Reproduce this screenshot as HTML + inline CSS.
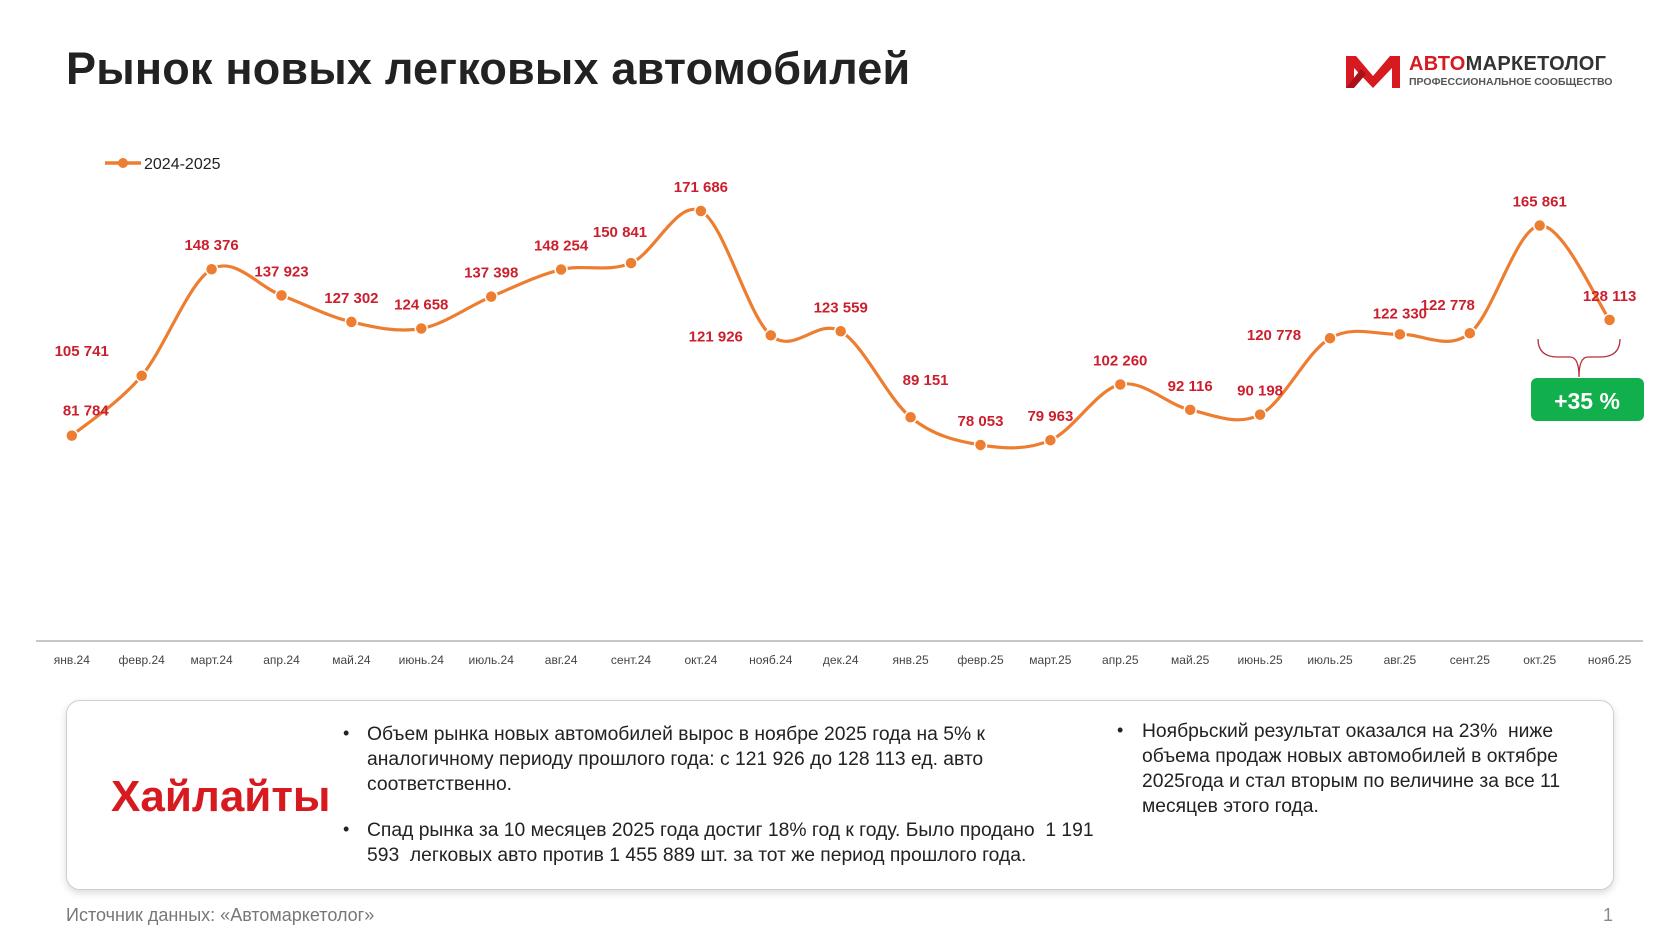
<!DOCTYPE html>
<html><head><meta charset="utf-8">
<style>
body{margin:0;background:#fff;}
#root{position:relative;width:1680px;height:945px;overflow:hidden;background:#fff;font-family:"Liberation Sans",sans-serif;}
.abs{position:absolute;}
.title{left:66px;top:43px;font-size:45px;font-weight:bold;color:#222;letter-spacing:0.2px;}
.box{left:66px;top:700px;width:1546px;height:188px;border:1.5px solid #cfcfcf;border-radius:14px;box-shadow:0 3px 8px rgba(0,0,0,0.15);background:#fff;}
.hl{left:111px;top:772px;font-size:44px;font-weight:bold;color:#d71920;}
.txt{font-size:19.3px;color:#222;line-height:25px;}
.bul{font-size:18px;color:#222;}
.src{left:66px;top:905px;font-size:18px;color:#777;}
.pg{left:1603px;top:905px;font-size:18px;color:#888;}
</style></head>
<body>
<div id="root">
<div class="abs title">Рынок новых легковых автомобилей</div>

<div class="abs" style="left:1346px;top:54px;">
<svg width="54" height="36" viewBox="0 0 54 36">
<polygon points="0,2 10,2 27,22 44,2 54,2 54,34 46,34 46,14 27,34 8,14 8,34 0,34" fill="#d71920"/>
<polygon points="0,34 8,34 20,20 15,15" fill="#a8121a"/>
</svg>
</div>
<div class="abs" style="left:1409px;top:53px;font-size:20px;font-weight:bold;letter-spacing:0.3px;"><span style="color:#d71920">АВТО</span><span style="color:#333">МАРКЕТОЛОГ</span></div>
<div class="abs" style="left:1409px;top:76px;font-size:10.5px;font-weight:bold;color:#555;">ПРОФЕССИОНАЛЬНОЕ СООБЩЕСТВО</div>

<svg id="chart" class="abs" style="left:0;top:0" width="1680" height="700"></svg>

<div class="abs box"></div>
<div class="abs hl">Хайлайты</div>
<div class="abs bul" style="left:343px;top:723px;">•</div>
<div class="abs txt" style="left:367px;top:722px;">Объем рынка новых автомобилей вырос в ноябре 2025 года на 5% к<br>аналогичному периоду прошлого года: с 121 926 до 128 113 ед. авто<br>соответственно.</div>
<div class="abs bul" style="left:343px;top:819px;">•</div>
<div class="abs txt" style="left:367px;top:818px;">Спад рынка за 10 месяцев 2025 года достиг 18% год к году. Было продано&nbsp; 1 191<br>593&nbsp; легковых авто против 1 455 889 шт. за тот же период прошлого года.</div>
<div class="abs bul" style="left:1117px;top:720px;">•</div>
<div class="abs txt" style="left:1142px;top:719px;">Ноябрьский результат оказался на 23%&nbsp; ниже<br>объема продаж новых автомобилей в октябре<br>2025года и стал вторым по величине за все 11<br>месяцев этого года.</div>

<div class="abs src">Источник данных: «Автомаркетолог»</div>
<div class="abs pg">1</div>
</div>
<script>
const categories=["янв.24","февр.24","март.24","апр.24","май.24","июнь.24","июль.24","авг.24","сент.24","окт.24","нояб.24","дек.24","янв.25","февр.25","март.25","апр.25","май.25","июнь.25","июль.25","авг.25","сент.25","окт.25","нояб.25"];
const values=[81784,105741,148376,137923,127302,124658,137398,148254,150841,171686,121926,123559,89151,78053,79963,102260,92116,90198,120778,122330,122778,165861,128113];
const valueLabels=["81 784","105 741","148 376","137 923","127 302","124 658","137 398","148 254","150 841","171 686","121 926","123 559","89 151","78 053","79 963","102 260","92 116","90 198","120 778","122 330","122 778","165 861","128 113"];
const seriesName="2024-2025";

const NS="http://www.w3.org/2000/svg";
const svg=document.getElementById('chart');
const x0=71.8, dx=69.9, yBase=640, yMax=171686, yTopPx=211;
function xs(i){return x0+i*dx;}
function ys(v){return yBase-v*(yBase-yTopPx)/yMax;}
function mk(tag,attrs){const e=document.createElementNS(NS,tag);for(const k in attrs)e.setAttribute(k,attrs[k]);svg.appendChild(e);return e;}

const ax=mk('line',{x1:36,x2:1643,y1:641,y2:641,stroke:'#c8c8c8','stroke-width':2});


categories.forEach((c,i)=>{
  const t=mk('text',{x:xs(i),y:664,'text-anchor':'middle','font-size':12,fill:'#444','font-family':'Liberation Sans, sans-serif'});
  t.textContent=c;
  
  
});

const pts=values.map((v,i)=>[xs(i),ys(v)]);
let d='M'+pts[0][0]+','+pts[0][1];
for(let i=0;i<pts.length-1;i++){
  const p0=pts[Math.max(0,i-1)],p1=pts[i],p2=pts[i+1],p3=pts[Math.min(pts.length-1,i+2)];
  const c1=[p1[0]+(p2[0]-p0[0])/6,p1[1]+(p2[1]-p0[1])/6];
  const c2=[p2[0]-(p3[0]-p1[0])/6,p2[1]-(p3[1]-p1[1])/6];
  d+=' C'+c1[0]+','+c1[1]+' '+c2[0]+','+c2[1]+' '+p2[0]+','+p2[1];
}
const line=mk('path',{d:d,fill:'none',stroke:'#ed7d31','stroke-width':3.2});



const off={0:[14,-25],1:[-60,-25],8:[-11,-31],10:[-55,1],12:[15,-37],18:[-56,-3],19:[0,-21],20:[-22,-28]};
pts.forEach((p,i)=>{
  const c=mk('circle',{cx:p[0],cy:p[1],r:6,fill:'#ed7d31',stroke:'#fff','stroke-width':1.5});
  
  
  const o=off[i]||[0,-24];
  const t=mk('text',{x:p[0]+o[0],y:p[1]+o[1]+5,'text-anchor':'middle','font-size':15,'font-weight':'bold',fill:'#cc1f2d','font-family':'Liberation Sans, sans-serif'});
  t.textContent=valueLabels[i];
  
  
});

const lg=mk('line',{x1:105,x2:141,y1:163,y2:163,stroke:'#ed7d31','stroke-width':3.5});


const lc=mk('circle',{cx:123,cy:163,r:5,fill:'#ed7d31'});


const lt=mk('text',{x:144,y:169,'font-size':16,fill:'#222','font-family':'Liberation Sans, sans-serif'});
lt.textContent=seriesName;



const br=mk('path',{d:'M1538,339 Q1538,357 1558,357 L1570,357 Q1579,357 1579,377 Q1579,357 1588,357 L1600,357 Q1620,357 1620,339',fill:'none',stroke:'#b5303a','stroke-width':1.3});


const gb=mk('rect',{x:1531,y:378,width:113,height:43,rx:6,fill:'#12b04c'});


const gt=mk('text',{x:1587,y:409,'text-anchor':'middle','font-size':23,'font-weight':'bold',fill:'#fff','font-family':'Liberation Sans, sans-serif'});
gt.textContent='+35 %';


</script>
</body></html>
